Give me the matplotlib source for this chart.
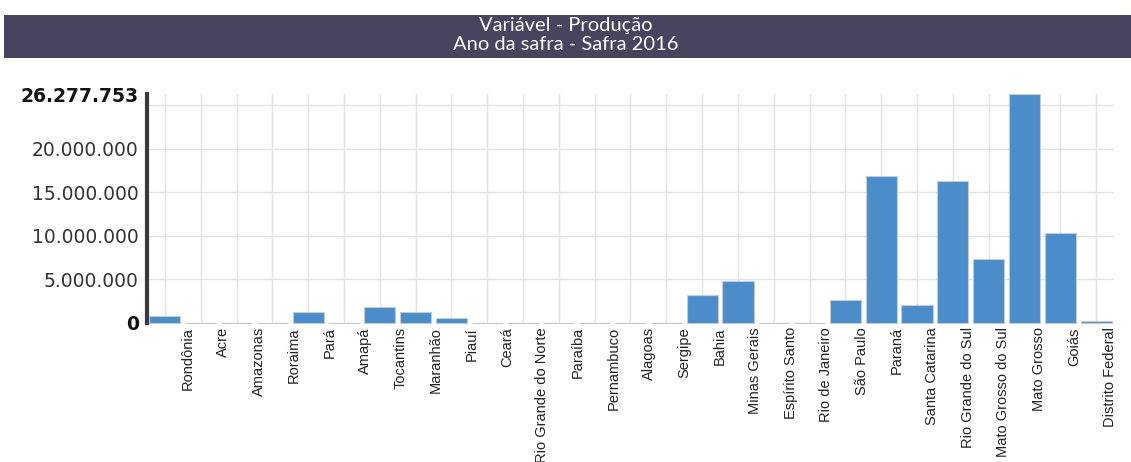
import numpy as np
import matplotlib
matplotlib.use("Agg")
import matplotlib.pyplot as plt
from matplotlib.patches import Rectangle

title_lines = ["Variável - Produção", "Ano da safra - Safra 2016"]
states = ["Rondônia", "Acre", "Amazonas", "Roraima", "Pará", "Amapá", "Tocantins",
          "Maranhão", "Piauí", "Ceará", "Rio Grande do Norte", "Paraíba", "Pernambuco",
          "Alagoas", "Sergipe", "Bahia", "Minas Gerais", "Espírito Santo",
          "Rio de Janeiro", "São Paulo", "Paraná", "Santa Catarina",
          "Rio Grande do Sul", "Mato Grosso do Sul", "Mato Grosso", "Goiás",
          "Distrito Federal"]
production = [750000, 0, 0, 0, 1300000, 0, 1800000, 1230000, 610000, 0, 0, 0, 0, 0, 0,
              3220000, 4790000, 0, 0, 2640000, 16900000, 2100000, 16300000, 7400000,
              26277753, 10300000, 200000]
y_ticks = [0, 5000000, 10000000, 15000000, 20000000, 25000000]
y_max = 26277753

W, H = 1131, 462
fig = plt.figure(figsize=(W / 100, H / 100), dpi=100)
fig.patch.set_facecolor("white")

# banner
fig.patches.append(Rectangle((4 / W, 1 - 58 / H), 1 - 4 / W, 43 / H,
                             transform=fig.transFigure, facecolor="#46445f",
                             edgecolor="none", zorder=0))
fig.text(0.5, 1 - 25 / H, title_lines[0], ha="center", va="center", color="white",
         fontsize=14.5, family=["Lato", "DejaVu Sans"])
fig.text(0.5, 1 - 45 / H, title_lines[1], ha="center", va="center", color="white",
         fontsize=14.5, family=["Lato", "DejaVu Sans"])

ax = fig.add_axes([147 / W, 1 - 323 / H, (1114 - 147) / W, (323 - 94) / H])
x = np.arange(len(states))
ax.bar(x, production, width=0.87, color="#4b8dcb", edgecolor="#c3ccd6",
       linewidth=0.8, zorder=3, clip_on=False)

ax.set_xlim(-0.5, len(states) - 0.5)
ax.set_ylim(0, y_max)

for s in ["top", "right", "bottom"]:
    ax.spines[s].set_visible(False)
ax.spines["left"].set_color("#3a3a3a")
ax.spines["left"].set_linewidth(3)

# y ticks
yt = y_ticks + [y_max]
ylabels = ["0", "5.000.000", "10.000.000", "15.000.000", "20.000.000", "", "26.277.753"]
ax.set_yticks(yt)
ax.set_yticklabels(ylabels, family="DejaVu Sans", fontsize=13.5, color="#333333")
for i in (0, len(yt) - 1):
    ax.get_yticklabels()[i].set_fontweight("bold")
    ax.get_yticklabels()[i].set_color("#111111")
ax.tick_params(axis="y", length=0, pad=6)
ax.yaxis.grid(True, color="#e3e3e3", linewidth=1, zorder=0)
ax.yaxis.get_gridlines()[-1].set_visible(False)

# x labels (offset from bars as in the reference rendering)
ax.set_xticks(x * 0.99 + 0.64)
ax.set_xticklabels(states, rotation=90, family="Liberation Sans",
                   fontsize=10.5, color="#222222", va="top", ha="center")
ax.tick_params(axis="x", length=0, pad=3)
ax.set_xticks(x, minor=True)
ax.tick_params(axis="x", which="minor", length=0)
ax.xaxis.grid(True, which="minor", color="#e3e3e3", linewidth=1, zorder=0)
ax.xaxis.grid(False, which="major")
ax.set_axisbelow(True)

fig.savefig("out.png", dpi=100)
